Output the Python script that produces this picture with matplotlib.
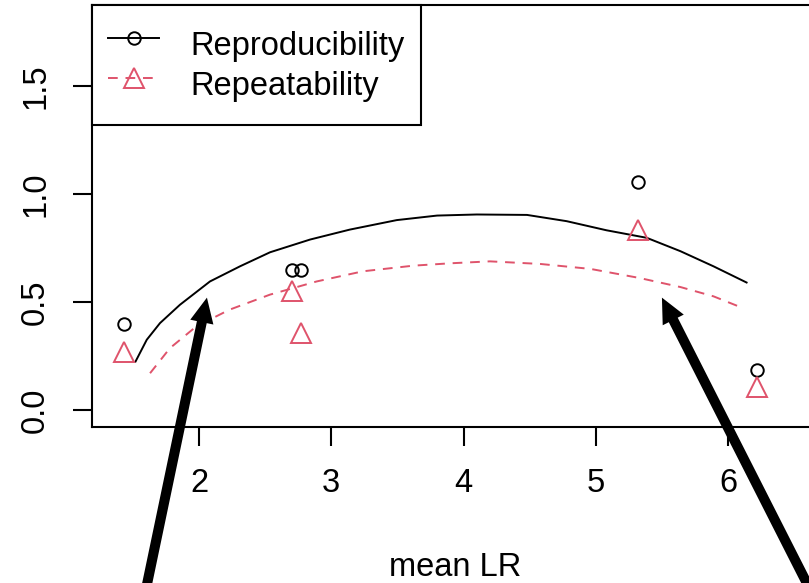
import numpy as np
import matplotlib
matplotlib.use("Agg")
import matplotlib.pyplot as plt
from matplotlib.lines import Line2D

# observed points (mean LR vs. variance component)
mean_lr = [1.43, 2.70, 2.77, 5.32, 6.22]
reproducibility = [0.40, 0.65, 0.65, 1.055, 0.185]
repeatability = [0.27, 0.55, 0.355, 0.835, 0.105]

# smoothed curves
curve_repro_x = [1.52, 1.605, 1.705, 1.856, 2.083, 2.31, 2.537, 2.84, 3.14, 3.495,
                 3.80, 4.10, 4.48, 4.78, 5.08, 5.385, 5.64, 5.89, 6.14]
curve_repro_y = [0.224, 0.325, 0.402, 0.487, 0.595, 0.665, 0.73, 0.789, 0.835, 0.879,
                 0.90, 0.905, 0.903, 0.874, 0.832, 0.797, 0.735, 0.665, 0.59]
curve_repeat_x = [1.63, 1.78, 1.98, 2.23, 2.537, 2.89, 3.24, 3.62, 3.90, 4.20,
                  4.58, 4.96, 5.33, 5.64, 5.89, 6.09]
curve_repeat_y = [0.17, 0.286, 0.387, 0.464, 0.534, 0.595, 0.642, 0.668, 0.679, 0.688,
                  0.676, 0.653, 0.611, 0.569, 0.526, 0.477]

x_ticks = [2, 3, 4, 5, 6]
y_ticks = [0.0, 0.5, 1.0, 1.5]
labels = ["Reproducibility", "Repeatability"]

# arrow tips (data) and tails (figure pixels)
arrow_tips = [(2.06, 0.52), (5.50, 0.52)]
arrow_tails = [(141, -30), (822, -30)]

red = "#DF536B"
fs = 23.5

plt.rcParams["font.family"] = ["Liberation Sans", "DejaVu Sans"]

W, H = 809, 583
fig = plt.figure(figsize=(W / 100, H / 100), dpi=100)
left, right, top, bottom = 92, 818, 5, 427
ax = fig.add_axes([left / W, 1 - bottom / H, (right - left) / W, (bottom - top) / H])

ax.plot(curve_repro_x, curve_repro_y, color="black", lw=1.4)
ax.plot(curve_repeat_x, curve_repeat_y, color=red, lw=1.4, dashes=(5, 4))
ax.plot(mean_lr, reproducibility, "o", ms=9, mfc="none", mec="black", mew=1.4)
ax.plot(mean_lr, repeatability, "^", ms=15, mfc="none", mec=red, mew=1.4)

ax.set_xlim(1.191, 6.68)
ax.set_ylim(-0.079, 1.875)
ax.set_xticks(x_ticks)
ax.set_yticks(y_ticks)
ax.set_yticklabels([f"{v:.1f}" for v in y_ticks], rotation=90, va="center")
ax.tick_params(length=13.5, width=1.5, labelsize=fs, pad=16, direction="out")
ax.set_xlabel("mean LR", fontsize=fs, labelpad=38)
for s in ax.spines.values():
    s.set_linewidth(1.5)

handles = [
    Line2D([], [], color="black", lw=1.4, marker="o", ms=9, mfc="none", mew=1.4),
    Line2D([], [], color=red, lw=1.4, dashes=(5, 4), marker="^", ms=15, mfc="none", mew=1.4),
]
leg = ax.legend(handles, labels, loc="upper left", bbox_to_anchor=(0, 1),
                borderaxespad=0, fontsize=fs, fancybox=False, framealpha=1,
                edgecolor="black", handlelength=1.56, handletextpad=0.95,
                borderpad=0.5, handleheight=1.85, labelspacing=-0.22)
leg.get_frame().set_linewidth(1.5)

for tip, tail in zip(arrow_tips, arrow_tails):
    ax.annotate("", xy=tip, xycoords="data", xytext=tail, textcoords="figure pixels",
                annotation_clip=False,
                arrowprops=dict(facecolor="black", edgecolor="black", lw=0,
                                width=7.2, headwidth=17, headlength=18, shrink=0))

fig.savefig("out.png", dpi=100)
